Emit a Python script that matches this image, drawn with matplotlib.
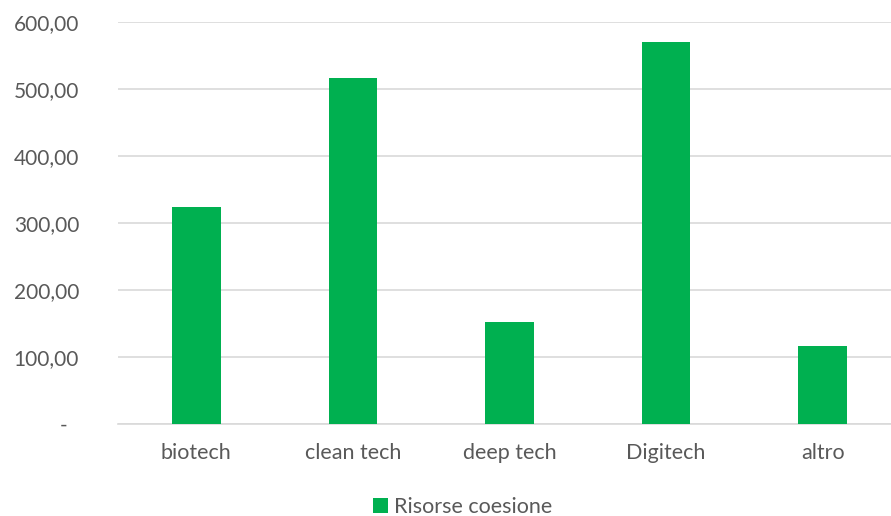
import matplotlib

matplotlib.use("Agg")
import matplotlib.pyplot as plt
import numpy as np

categories = ["biotech", "clean tech", "deep tech", "Digitech", "altro"]
risorse_coesione = [324, 516, 152, 570, 116]
y_ticks = [0, 100, 200, 300, 400, 500, 600]
y_labels = ["-", "100,00", "200,00", "300,00", "400,00", "500,00", "600,00"]

plt.rcParams["font.family"] = ["Lato", "DejaVu Sans"]

fig = plt.figure(figsize=(8.91, 5.16), dpi=100)
ax = fig.add_axes([118 / 891, 92 / 516, 783 / 891, 402 / 516])

x = np.arange(len(categories))
ax.bar(x, risorse_coesione, width=0.31, color="#00B050", label="Risorse coesione", zorder=3)

ax.set_xlim(-0.5, len(categories) - 0.5)
ax.set_ylim(0, 600)
ax.set_yticks(y_ticks)
ax.set_yticklabels(y_labels, fontsize=15, color="#595959")
ax.set_xticks(x)
ax.set_xticklabels(categories, fontsize=15.5, color="#595959")
ax.tick_params(length=0)
ax.tick_params(axis="x", pad=14)
ax.tick_params(axis="y", pad=28)
# the zero label is a dash sitting a little left of the others
ax.get_yticklabels()[0].set_x(-0.015)

ax.grid(axis="y", color="#D9D9D9", linewidth=1.2, zorder=0)
for s in ["top", "right", "left"]:
    ax.spines[s].set_visible(False)
ax.spines["bottom"].set_color("#D9D9D9")
ax.spines["bottom"].set_linewidth(1.2)

fig.legend(loc="center", bbox_to_anchor=(0.519, 0.017), frameon=False,
           fontsize=15.5, handlelength=0.7, handleheight=0.7, handletextpad=0.3,
           labelcolor="#595959")

plt.savefig("out.png", dpi=100)
